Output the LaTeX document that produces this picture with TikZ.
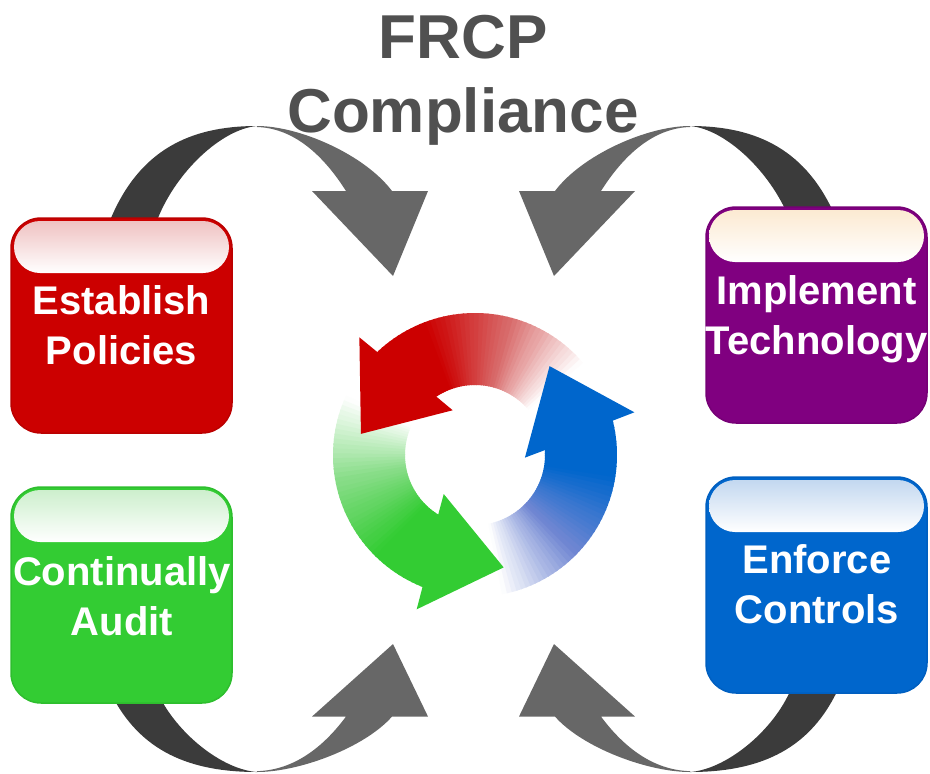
\documentclass[tikz,border=0pt]{standalone}
\usepackage{fontspec}
\setmainfont{Liberation Sans}
\definecolor{arrowdark}{HTML}{3B3B3B}
\definecolor{arrowgray}{HTML}{676767}
\definecolor{titlegray}{HTML}{505050}
\definecolor{policyred}{HTML}{CC0000}
\definecolor{policyline}{HTML}{BB0000}
\definecolor{policygloss}{HTML}{EFC2C2}
\definecolor{techpurple}{HTML}{800080}
\definecolor{techline}{HTML}{760076}
\definecolor{techgloss}{HTML}{FCEAD2}
\definecolor{auditgreen}{HTML}{33CC33}
\definecolor{auditline}{HTML}{2EBE2E}
\definecolor{auditgloss}{HTML}{CDEFCD}
\definecolor{controlblue}{HTML}{0066CC}
\definecolor{controlline}{HTML}{005FC0}
\definecolor{controlgloss}{HTML}{C3D8F0}
\definecolor{redmid}{HTML}{D86A6A}
\definecolor{greenmid}{HTML}{88DD88}
\definecolor{bluemid}{HTML}{6F86D2}

% Bent grey arrow: dark underside on the left, lighter face ending in a head.
\newcommand\bendarrow[1]{%
  \begin{scope}[#1]
    \fill[arrowdark] (-150,130) -- (-146,92)
      .. controls (-117,24) and (-67,0) .. (0,0)
      .. controls (-35,3) and (-80,45) .. (-99,92) -- (-106,130) -- cycle;
    \fill[arrowgray] (0,0) .. controls (43,0) and (108,29) .. (135,65)
      -- (171,65) -- (136,150) -- (55,65) -- (89,65)
      .. controls (63,24) and (33,2) .. (0,1) -- cycle;
  \end{scope}}

% Ring shaft that fades from white into the solid colour; #3 is the tip angle.
\newcommand\ringshaft[3]{%
  \foreach \k in {0,...,49}{%
    \pgfmathsetmacro\angA{#3-135+2*\k}%
    \pgfmathsetmacro\angB{\angA+2.6}%
    \pgfmathtruncatemacro\pct{max(0,min(100,(2*\k-5)*100/70))}%
    \ifnum\pct>50
      \pgfmathtruncatemacro\q{2*\pct-100}%
      \colorlet{slicecol}{#1!\q!#2}%
    \else
      \pgfmathtruncatemacro\q{2*\pct}%
      \colorlet{slicecol}{#2!\q!white}%
    \fi
    \fill[slicecol] (\angA:70) arc[start angle=\angA, end angle=\angB, radius=70]
      -- (\angB:142) arc[start angle=\angB, end angle=\angA, radius=142] -- cycle;
  }}

% Solid arrow head of a ring segment.
\newcommand\ringhead[2]{%
  \fill[#1] (#2:116) -- (#2-35:165) -- (#2-36:142) -- (#2-46:70) -- (#2-53:50) -- cycle;}

\begin{document}
\begin{tikzpicture}[x=1pt,y=-1pt,
  card/.style={rounded corners=30pt, line width=1.5pt},
  gloss/.style={rounded corners=26pt, bottom color=white},
  cardlabel/.style={text=white, font=\bfseries\fontsize{40}{50}\selectfont,
    align=center, inner sep=0pt, anchor=base},
  heading/.style={text=titlegray, font=\bfseries\fontsize{62}{74}\selectfont,
    align=center, inner sep=0pt, anchor=base}]
\useasboundingbox (0,0) rectangle (930,774);

% bent arrows linking the cards to the centre
\bendarrow{shift={(257,126)}}
\bendarrow{shift={(690,126)}, xscale=-1}
\bendarrow{shift={(257,772)}, yscale=-0.853}
\bendarrow{shift={(690,772)}, xscale=-1, yscale=-0.853}

% cards (label anchors sit on the baseline of the second line)
\path[card, fill=policyred, draw=policyline] (11,218) rectangle (232,433);
\shade[gloss, top color=policygloss] (14,221) rectangle (229,273);
\node[cardlabel] (policies) at (121.5,364) {Establish\\Policies};

\path[card, fill=techpurple, draw=techline] (706,207) rectangle (927,423);
\shade[gloss, top color=techgloss] (709,210) rectangle (924,262);
\node[cardlabel] (technology) at (816.5,354) {Implement\\Technology};

\path[card, fill=auditgreen, draw=auditline] (11,487) rectangle (232,703);
\shade[gloss, top color=auditgloss] (14,490) rectangle (229,542);
\node[cardlabel] (audit) at (122,635) {Continually\\Audit};

\path[card, fill=controlblue, draw=controlline] (706,477) rectangle (927,693);
\shade[gloss, top color=controlgloss] (709,480) rectangle (924,532);
\node[cardlabel] (controls) at (817,623) {Enforce\\Controls};

% central cycle
\begin{scope}[shift={(475,455)}, yscale=-1]
  \ringshaft{policyred}{redmid}{169.5}
  \ringshaft{auditgreen}{greenmid}{284.3}
  \ringshaft{controlblue}{bluemid}{50}
  \ringhead{policyred}{169.5}
  \ringhead{auditgreen}{284.3}
  \ringhead{controlblue}{50}
\end{scope}

% title
\node[heading] (title) at (463,132) {FRCP\\Compliance};
\end{tikzpicture}
\end{document}
